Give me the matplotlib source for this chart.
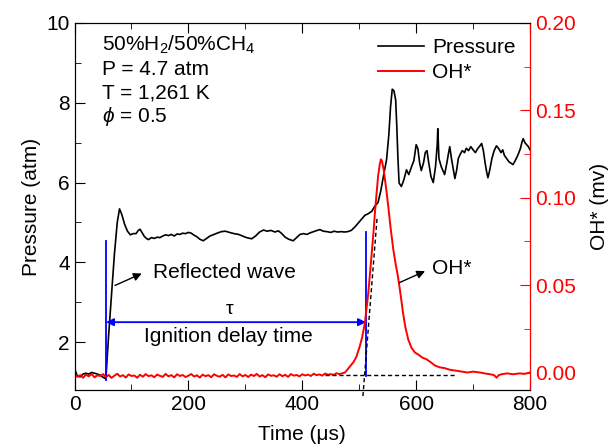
import numpy as np
import matplotlib
matplotlib.use("Agg")
import matplotlib.pyplot as plt
from matplotlib.ticker import FixedLocator

plt.rcParams["font.family"] = ["Liberation Sans", "DejaVu Sans"]
plt.rcParams["mathtext.fontset"] = "custom"
plt.rcParams["mathtext.rm"] = "Liberation Sans"
plt.rcParams["mathtext.it"] = "Liberation Sans:italic"

# ── Pressure trace (µs, atm) ────────────────────────────────────────────────
p_time = [0, 2, 5, 10, 15, 20, 25, 30, 35, 40, 45, 50, 55, 60, 65, 70, 75, 79,
          83, 88, 93, 98, 103, 108, 112, 115, 118, 122, 126, 130, 135, 140,
          145, 150, 155, 160, 165, 170, 175, 180, 185, 190, 195, 200, 205,
          210, 215, 220, 226, 232, 238, 245, 252, 258, 265, 272, 280, 288,
          295, 302, 311, 318, 325, 332, 338, 345, 352, 358, 364, 370, 376,
          384, 390, 396, 402, 408, 414, 420, 426, 431, 437, 443, 450, 456,
          462, 468, 474, 480, 486, 492, 498, 504, 510, 516, 522, 528, 533,
          538, 543, 548, 552, 555, 558, 561, 564, 566, 568, 570, 574, 578,
          583, 587, 592, 596, 600, 603, 606, 609, 613, 616, 619, 622, 626,
          630, 634, 637, 638, 640, 644, 647, 650, 654, 657, 659, 662, 665,
          668, 671, 674, 677, 681, 685, 688, 692, 696, 700, 704, 708, 712,
          715, 718, 721, 724, 726, 729, 733, 737, 741, 745, 749, 752, 755,
          759, 763, 767, 770, 774, 779, 783, 786, 788, 791, 794, 797, 800]
p_vals = [1.40, 1.25, 1.15, 1.13, 1.20, 1.22, 1.20, 1.24, 1.22, 1.20, 1.17,
          1.12, 1.08, 2.20, 3.20, 4.20, 5.00, 5.34, 5.20, 4.95, 4.78, 4.69,
          4.72, 4.72, 4.80, 4.83, 4.76, 4.66, 4.60, 4.57, 4.62, 4.60, 4.63,
          4.62, 4.66, 4.69, 4.67, 4.70, 4.66, 4.71, 4.70, 4.73, 4.72, 4.75,
          4.73, 4.68, 4.64, 4.58, 4.54, 4.60, 4.66, 4.70, 4.74, 4.77, 4.78,
          4.75, 4.72, 4.70, 4.66, 4.62, 4.59, 4.66, 4.76, 4.81, 4.78, 4.80,
          4.76, 4.79, 4.72, 4.63, 4.58, 4.54, 4.62, 4.70, 4.72, 4.70, 4.74,
          4.77, 4.80, 4.82, 4.78, 4.77, 4.75, 4.78, 4.76, 4.77, 4.76, 4.77,
          4.80, 4.88, 4.98, 5.08, 5.18, 5.22, 5.28, 5.42, 5.50, 5.80, 6.20,
          6.57, 7.20, 7.90, 8.34, 8.30, 8.07, 7.40, 6.60, 5.99, 5.90, 6.05,
          6.32, 6.20, 6.40, 6.55, 6.95, 6.85, 6.50, 6.30, 6.50, 6.75, 6.80,
          6.50, 6.15, 6.00, 6.40, 6.95, 7.35, 6.60, 6.40, 6.30, 6.20, 6.50,
          6.75, 6.90, 6.60, 6.35, 6.10, 6.30, 6.60, 6.70, 6.80, 6.75, 6.86,
          6.80, 6.90, 6.82, 6.75, 6.85, 6.92, 6.98, 6.80, 6.50, 6.25, 6.12,
          6.30, 6.60, 6.80, 6.92, 6.85, 6.75, 6.82, 6.68, 6.60, 6.52, 6.48,
          6.45, 6.55, 6.70, 6.85, 7.02, 7.10, 7.00, 6.95, 6.90, 6.82]

# ── OH* emission (mV) ───────────────────────────────────────────────────────
# flat noisy baseline before ignition, one reading every 5 µs from 0 to 470
oh_base_t = np.arange(0, 475, 5)
oh_base_v = np.array([
    -1.0, -2.5, -1.5, -3.0, -1.2, -2.2, -0.8, -2.8, -1.6, -2.0,
    -0.9, -2.6, -1.4, -3.1, -1.8, -0.7, -2.3, -1.5, -2.9, -1.1,
    -2.0, -1.7, -3.0, -1.3, -2.4, -0.9, -2.1, -1.6, -2.7, -1.2,
    -1.9, -2.5, -0.8, -2.2, -1.5, -2.8, -1.0, -2.0, -1.4, -2.6,
    -1.8, -0.9, -2.3, -1.6, -2.9, -1.2, -2.1, -1.5, -2.7, -1.0,
    -1.9, -2.4, -1.3, -2.8, -1.1, -2.0, -1.7, -2.5, -0.9, -2.2,
    -1.4, -2.6, -1.2, -2.0, -0.8, -2.3, -1.5, -2.7, -1.1, -1.9,
    -1.6, -2.4, -1.0, -2.1, -1.3, -2.5, -0.9, -1.8, -1.4, -2.2,
    -1.0, -1.7, -1.2, -2.0, -0.7, -1.5, -1.1, -1.8, -0.6, -1.3,
    -0.9, -1.4, -0.4, -0.9, -0.5]) / 1000
oh_peak_t = [475, 480, 485, 490, 495, 501, 505, 510, 513, 516, 519, 522, 525,
             527.5, 530, 533, 536, 538, 540, 543, 547, 551, 555, 560, 564,
             568, 572, 577, 581, 586, 592, 598, 605, 611, 618, 625, 633, 641,
             650, 660, 671, 680, 690, 700, 712, 720, 730, 737, 741, 745, 750,
             760, 770, 782, 790, 800]
oh_peak_v = [0.000, 0.002, 0.004, 0.006, 0.009, 0.015, 0.020, 0.0285, 0.037,
             0.0457, 0.057, 0.0685, 0.080, 0.0913, 0.101, 0.112, 0.119, 0.122,
             0.121, 0.116, 0.106, 0.095, 0.083, 0.070, 0.062, 0.055, 0.046,
             0.034, 0.026, 0.019, 0.014, 0.0114, 0.010, 0.0085, 0.0076, 0.006,
             0.004, 0.003, 0.0025, 0.0015, 0.001, 0.0005, 0.000, 0.0005, 0.0,
             -0.0005, -0.001, -0.0015, -0.003, -0.0015, -0.001, -0.0005,
             -0.001, -0.0005, -0.0008, 0.0]
oh_time = np.concatenate([oh_base_t, oh_peak_t])
oh_vals = np.concatenate([oh_base_v, oh_peak_v])

# ignition delay markers
t_reflect = 55.3
t_ignite = 511.9
tangent_t = [506.5, 531.6]
tangent_oh = [-0.0135, 0.0895]

fig = plt.figure(figsize=(6.11, 4.48), dpi=100)
ax = fig.add_axes([0.122, 0.1295, 0.7455, 0.8192])
ax2 = ax.twinx()

ax.plot(p_time, p_vals, color="black", linewidth=1.2, label="Pressure")
ax2.plot(oh_time, oh_vals, color="red", linewidth=1.4, label="OH*")

ax.set_xlim(0, 800)
ax.set_ylim(0.8, 10)
ax2.set_ylim(-0.01, 0.20)

# blue markers and double arrow
ax.plot([t_reflect, t_reflect], [1.06, 4.54], color="blue", linewidth=1.3)
ax.plot([t_ignite, t_ignite], [1.15, 4.75], color="blue", linewidth=1.3)
ax.annotate("", xy=(t_reflect, 2.5), xytext=(t_ignite, 2.5),
            arrowprops=dict(arrowstyle="<|-|>", color="blue", lw=1.3,
                            shrinkA=0, shrinkB=0, mutation_scale=11))
ax.text(273, 2.82, "τ", fontsize=14, ha="center", va="center")
ax.text(270, 2.15, "Ignition delay time", fontsize=15, ha="center", va="center")

# tangent construction
ax2.plot([440, 670], [-0.0015, -0.0015], color="black", linewidth=1,
         linestyle=(0, (3, 2)))
ax2.plot(tangent_t, tangent_oh, color="black", linewidth=1,
         linestyle=(0, (3, 2)), clip_on=False)

# labels with arrows
ax.annotate("", xy=(118, 3.72), xytext=(71, 3.42),
            arrowprops=dict(arrowstyle="-|>", color="black", lw=1,
                            mutation_scale=12, shrinkA=0, shrinkB=0))
ax.text(137, 3.74, "Reflected wave", fontsize=15, va="center")
ax2.annotate("", xy=(615.6, 0.058), xytext=(570.4, 0.0514),
             arrowprops=dict(arrowstyle="-|>", color="black", lw=1,
                             mutation_scale=12, shrinkA=0, shrinkB=0))
ax2.text(627.8, 0.0595, "OH*", fontsize=15, va="center")

# condition block
ax.text(0.06, 0.940, r"50%H$_2$/50%CH$_4$", transform=ax.transAxes,
        fontsize=15, va="center")
ax.text(0.06, 0.872, "P = 4.7 atm", transform=ax.transAxes, fontsize=15,
        va="center")
ax.text(0.06, 0.809, "T = 1,261 K", transform=ax.transAxes, fontsize=15,
        va="center")
ax.text(0.06, 0.744, r"$\phi$ = 0.5", transform=ax.transAxes, fontsize=15,
        va="center")

# axes styling
ax.set_xlabel("Time (μs)", fontsize=15, labelpad=8)
ax.set_ylabel("Pressure (atm)", fontsize=15)
ax2.set_ylabel("OH* (mv)", fontsize=15, labelpad=10)
ax.set_xticks([0, 200, 400, 600, 800])
ax.xaxis.set_minor_locator(FixedLocator([100, 300, 500, 700]))
ax.set_yticks([2, 4, 6, 8, 10])
ax.yaxis.set_minor_locator(FixedLocator([3, 5, 7, 9]))
ax2.set_yticks([0.00, 0.05, 0.10, 0.15, 0.20])
ax2.yaxis.set_minor_locator(FixedLocator([0.025, 0.075, 0.125, 0.175]))
ax2.yaxis.set_major_formatter(plt.FormatStrFormatter("%.2f"))

ax.tick_params(axis="both", which="both", direction="in", labelsize=15)
ax.tick_params(which="major", length=7)
ax.tick_params(which="minor", length=4)
ax.tick_params(axis="x", which="both", top=True)
ax.tick_params(axis="x", which="both", labeltop=False)
ax2.tick_params(axis="y", which="both", direction="in", colors="red",
                labelsize=15)
ax2.tick_params(axis="y", which="major", length=7)
ax2.tick_params(axis="y", which="minor", length=4)
ax2.spines["right"].set_color("red")
ax2.yaxis.label.set_color("black")

h1, l1 = ax.get_legend_handles_labels()
h2, l2 = ax2.get_legend_handles_labels()
ax2.legend(h1 + h2, l1 + l2, loc="upper right", frameon=False, fontsize=15,
           handlelength=2.2, handletextpad=0.4, labelspacing=0.3,
           bbox_to_anchor=(1.01, 1.01))

fig.savefig("out.png", dpi=100)
